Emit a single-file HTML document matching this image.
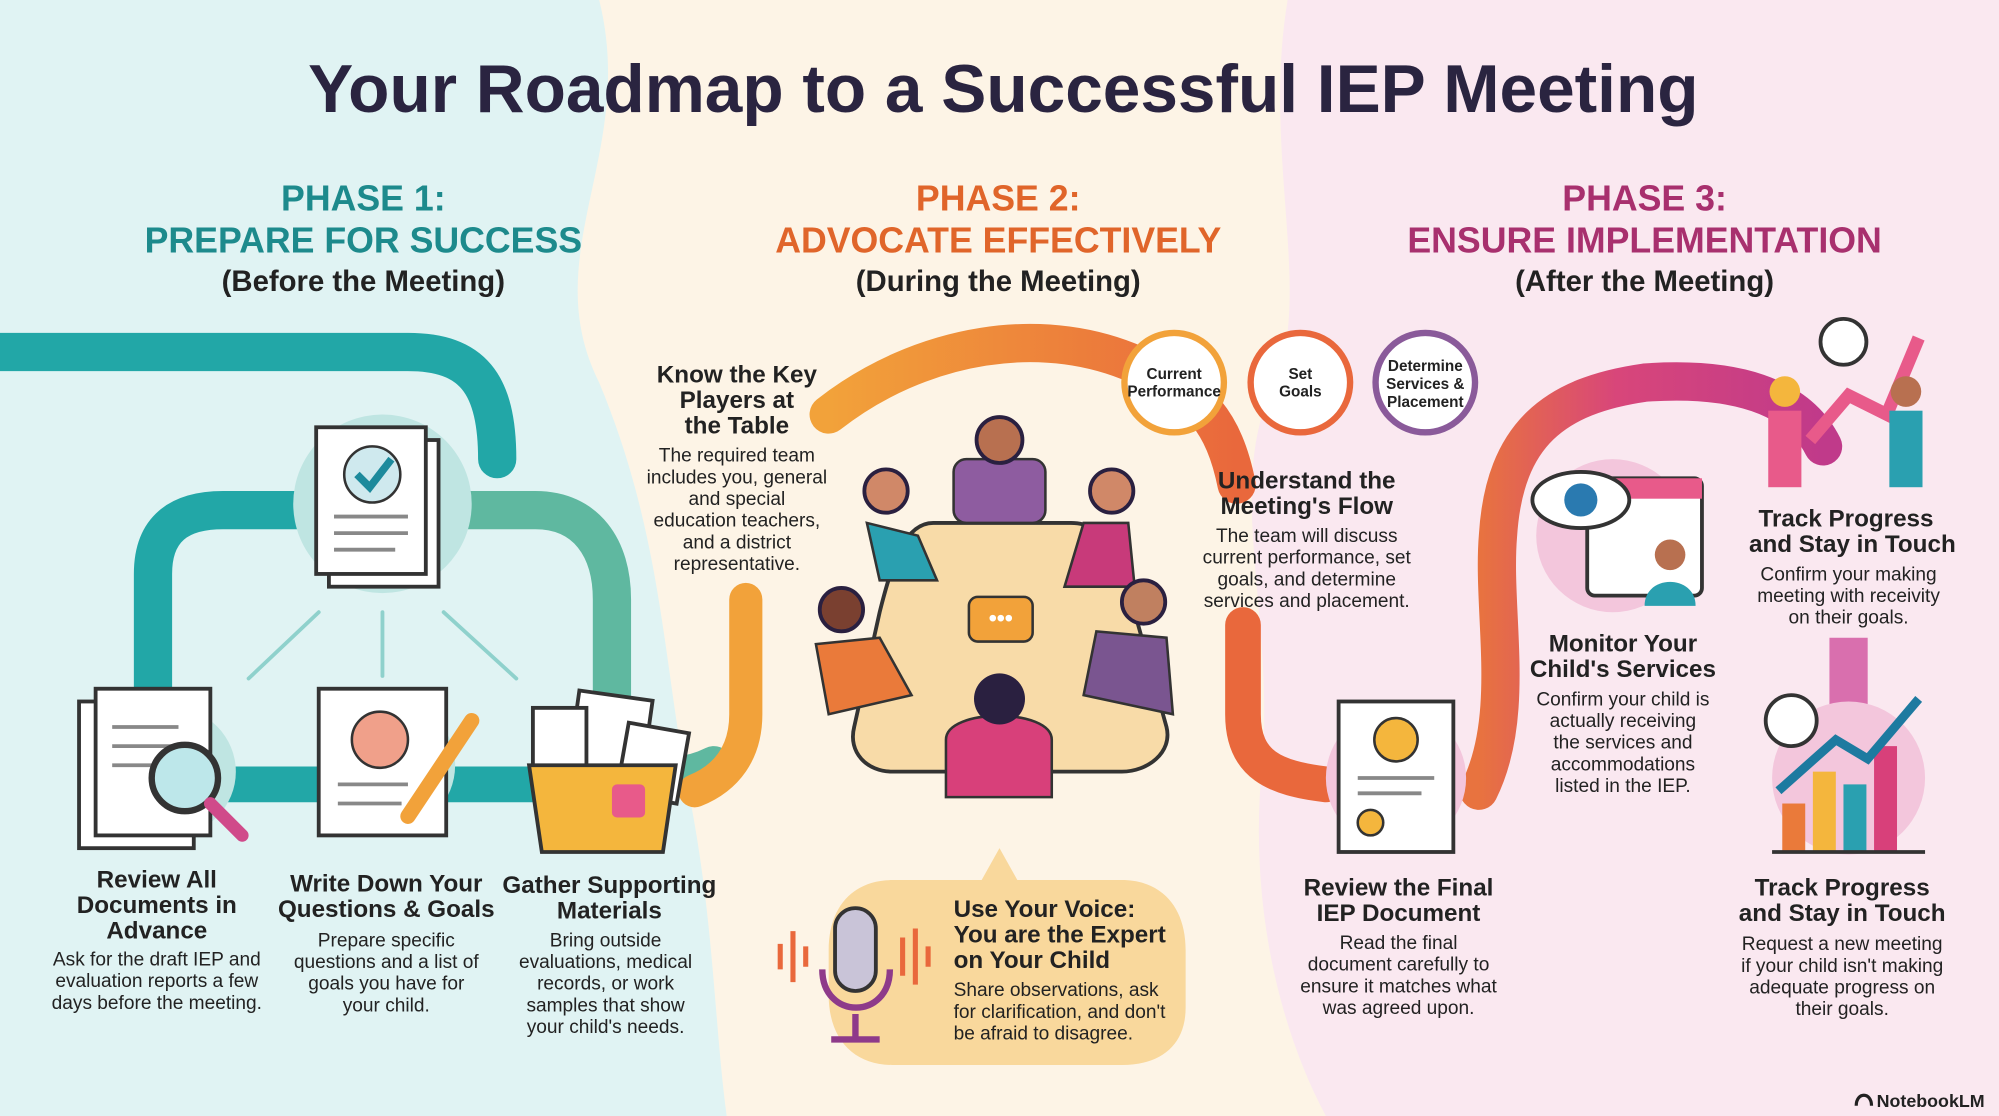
<!DOCTYPE html>
<html><head><meta charset="utf-8"><style>
html,body{margin:0;padding:0;width:1999px;height:1116px;overflow:hidden;background:#fdf4e6}
svg{display:block}
text{font-family:"Liberation Sans",sans-serif}
</style></head><body>
<svg width="1999" height="1116" viewBox="0 0 1568 875" preserveAspectRatio="none" xmlns="http://www.w3.org/2000/svg">
<defs>
<linearGradient id="og" x1="0" x2="1"><stop offset="0" stop-color="#f2a23a"/><stop offset="1" stop-color="#e9683c"/></linearGradient>
<linearGradient id="pg" x1="0" x2="1"><stop offset="0" stop-color="#e8733f"/><stop offset="0.4" stop-color="#d8467a"/><stop offset="1" stop-color="#c03a8a"/></linearGradient>
</defs>
<rect width="1568" height="875" fill="#fdf4e6"/>
<path d="M0 0 H470 C500 120 420 200 470 300 C520 420 520 520 540 620 C560 720 560 800 570 875 H0Z" fill="#e0f3f3"/>
<path d="M1010 0 H1568 V875 H1040 C1000 800 980 700 990 600 C1000 480 960 380 1000 300 C1030 230 990 120 1010 0Z" fill="#fae8f0"/>

<text x="787" y="88" text-anchor="middle" font-size="53" font-weight="bold" fill="#2a2440">Your Roadmap to a Successful IEP Meeting</text>

<g text-anchor="middle" font-weight="bold">
<text x="285" y="165" font-size="28" fill="#1d8a8c">PHASE 1:</text>
<text x="285" y="198" font-size="28" fill="#1d8a8c">PREPARE FOR SUCCESS</text>
<text x="285" y="228" font-size="23" fill="#222">(Before the Meeting)</text>
<text x="783" y="165" font-size="28" fill="#e0652a">PHASE 2:</text>
<text x="783" y="198" font-size="28" fill="#e0652a">ADVOCATE EFFECTIVELY</text>
<text x="783" y="228" font-size="23" fill="#222">(During the Meeting)</text>
<text x="1290" y="165" font-size="28" fill="#a8306e">PHASE 3:</text>
<text x="1290" y="198" font-size="28" fill="#a8306e">ENSURE IMPLEMENTATION</text>
<text x="1290" y="228" font-size="23" fill="#222">(After the Meeting)</text>
</g>

<g fill="none" stroke-linecap="round">
<path d="M0 276 H320 C370 276 390 300 390 360" stroke="#22a7a7" stroke-width="30"/>
<path d="M120 540 V450 C120 415 140 400 175 400 H240" stroke="#22a7a7" stroke-width="30"/>
<path d="M340 400 H420 C460 400 480 430 480 470 V560 C480 600 520 620 560 600" stroke="#5fb8a0" stroke-width="30"/>
<path d="M120 600 V615 H420" stroke="#22a7a7" stroke-width="28"/>
<path d="M250 480 L195 532 M300 480 V530 M348 480 L405 532" stroke="#8fd1cc" stroke-width="3"/>
<path d="M650 325 C720 270 820 250 900 290 C940 310 960 330 970 380" stroke="url(#og)" stroke-width="30"/>
<path d="M585 470 V560 C585 590 570 610 545 620" stroke="#f2a23a" stroke-width="26"/>
<path d="M975 490 V560 C975 600 1000 610 1040 615" stroke="#e9683c" stroke-width="28"/>
<path d="M1160 620 C1190 560 1170 480 1175 420 C1180 340 1220 310 1290 300 C1360 295 1410 310 1430 350" stroke="url(#pg)" stroke-width="30"/>
<path d="M1450 500 V560" stroke="#d96fae" stroke-width="30" stroke-linecap="butt"/>
</g>

<circle cx="300" cy="395" r="70" fill="#bfe5e2"/>
<rect x="258" y="345" width="86" height="115" fill="#fff" stroke="#333" stroke-width="3"/>
<rect x="248" y="335" width="86" height="115" fill="#fff" stroke="#333" stroke-width="3"/>
<circle cx="292" cy="372" r="22" fill="#cfe9ee" stroke="#333" stroke-width="2"/>
<path d="M280 372 L290 382 L307 360" stroke="#1d8a9c" stroke-width="6" fill="none"/>
<path d="M262 405 H320 M262 418 H320 M262 431 H310" stroke="#888" stroke-width="3"/>

<circle cx="135" cy="605" r="50" fill="#bfe5e2"/>
<rect x="62" y="550" width="90" height="115" fill="#fff" stroke="#333" stroke-width="3"/>
<rect x="75" y="540" width="90" height="115" fill="#fff" stroke="#333" stroke-width="3"/>
<path d="M88 570 H140 M88 585 H145 M88 600 H130" stroke="#888" stroke-width="3"/>
<circle cx="145" cy="610" r="26" fill="#bde7ea" stroke="#333" stroke-width="5"/>
<path d="M165 630 L190 655" stroke="#d04a8a" stroke-width="10" stroke-linecap="round"/>

<circle cx="305" cy="600" r="52" fill="#bfe5e2"/>
<rect x="250" y="540" width="100" height="115" fill="#fff" stroke="#333" stroke-width="3"/>
<circle cx="298" cy="580" r="22" fill="#f0a08a" stroke="#333" stroke-width="2"/>
<path d="M265 615 H320 M265 630 H315" stroke="#888" stroke-width="3"/>
<path d="M370 565 L320 640" stroke="#f2a23a" stroke-width="12" stroke-linecap="round"/>

<rect x="450" y="545" width="58" height="62" fill="#fff" stroke="#333" stroke-width="3" transform="rotate(8 478 575)"/>
<rect x="418" y="555" width="42" height="55" fill="#fff" stroke="#333" stroke-width="3"/>
<rect x="488" y="570" width="48" height="56" fill="#fff" stroke="#333" stroke-width="3" transform="rotate(10 510 598)"/>
<path d="M415 600 H530 L520 668 H425Z" fill="#f4b63d" stroke="#333" stroke-width="3"/>
<rect x="480" y="615" width="26" height="26" rx="4" fill="#e85a8a"/>

<g text-anchor="middle" fill="#222">
<text font-size="19" font-weight="bold"><tspan x="123" y="696">Review All</tspan><tspan x="123" y="716">Documents in</tspan><tspan x="123" y="736">Advance</tspan></text>
<text font-size="15"><tspan x="123" y="757">Ask for the draft IEP and</tspan><tspan x="123" y="774">evaluation reports a few</tspan><tspan x="123" y="791">days before the meeting.</tspan></text>
<text font-size="19" font-weight="bold"><tspan x="303" y="699">Write Down Your</tspan><tspan x="303" y="719">Questions &amp; Goals</tspan></text>
<text font-size="15"><tspan x="303" y="742">Prepare specific</tspan><tspan x="303" y="759">questions and a list of</tspan><tspan x="303" y="776">goals you have for</tspan><tspan x="303" y="793">your child.</tspan></text>
<text font-size="19" font-weight="bold"><tspan x="478" y="700">Gather Supporting</tspan><tspan x="478" y="720">Materials</tspan></text>
<text font-size="15"><tspan x="475" y="742">Bring outside</tspan><tspan x="475" y="759">evaluations, medical</tspan><tspan x="475" y="776">records, or work</tspan><tspan x="475" y="793">samples that show</tspan><tspan x="475" y="810">your child's needs.</tspan></text>

<text font-size="19" font-weight="bold"><tspan x="578" y="300">Know the Key</tspan><tspan x="578" y="320">Players at</tspan><tspan x="578" y="340">the Table</tspan></text>
<text font-size="15"><tspan x="578" y="362">The required team</tspan><tspan x="578" y="379">includes you, general</tspan><tspan x="578" y="396">and special</tspan><tspan x="578" y="413">education teachers,</tspan><tspan x="578" y="430">and a district</tspan><tspan x="578" y="447">representative.</tspan></text>

<text font-size="19" font-weight="bold"><tspan x="1025" y="383">Understand the</tspan><tspan x="1025" y="403">Meeting's Flow</tspan></text>
<text font-size="15"><tspan x="1025" y="425">The team will discuss</tspan><tspan x="1025" y="442">current performance, set</tspan><tspan x="1025" y="459">goals, and determine</tspan><tspan x="1025" y="476">services and placement.</tspan></text>
</g>

<circle cx="921" cy="300" r="39" fill="#fff" stroke="#f2a23a" stroke-width="5"/>
<circle cx="1020" cy="300" r="39" fill="#fff" stroke="#e9683c" stroke-width="5"/>
<circle cx="1118" cy="300" r="39" fill="#fff" stroke="#8a5a9a" stroke-width="5"/>
<g text-anchor="middle" font-size="12" font-weight="bold" fill="#222">
<text><tspan x="921" y="297">Current</tspan><tspan x="921" y="311">Performance</tspan></text>
<text><tspan x="1020" y="297">Set</tspan><tspan x="1020" y="311">Goals</tspan></text>
<text><tspan x="1118" y="291">Determine</tspan><tspan x="1118" y="305">Services &amp;</tspan><tspan x="1118" y="319">Placement</tspan></text>
</g>

<path d="M732 410 H840 C870 410 880 440 890 480 L915 570 C920 590 900 605 880 605 H700 C680 605 665 590 670 570 L690 480 C700 440 710 410 732 410Z" fill="#f8dba8" stroke="#333" stroke-width="3"/>
<rect x="748" y="360" width="72" height="50" rx="10" fill="#8e5ca0" stroke="#333" stroke-width="2"/>
<circle cx="784" cy="345" r="18" fill="#b87050" stroke="#2a2040" stroke-width="3"/>
<path d="M680 410 L720 420 L735 455 H690Z" fill="#2aa0b0" stroke="#333" stroke-width="2"/>
<circle cx="695" cy="385" r="17" fill="#d08868" stroke="#2a2040" stroke-width="3"/>
<path d="M850 410 L885 410 L890 460 H835Z" fill="#c83a7a" stroke="#333" stroke-width="2"/>
<circle cx="872" cy="385" r="17" fill="#d08868" stroke="#2a2040" stroke-width="3"/>
<path d="M640 505 L690 500 L715 545 L650 560Z" fill="#ea7a3a" stroke="#333" stroke-width="2"/>
<circle cx="660" cy="478" r="17" fill="#7a4030" stroke="#2a2040" stroke-width="3"/>
<path d="M860 495 L915 500 L920 560 L850 545Z" fill="#7a5590" stroke="#333" stroke-width="2"/>
<circle cx="897" cy="472" r="17" fill="#c08060" stroke="#2a2040" stroke-width="3"/>
<path d="M742 580 C742 555 825 555 825 580 V625 H742Z" fill="#d8407a" stroke="#333" stroke-width="2"/>
<circle cx="784" cy="548" r="20" fill="#2a2040"/>
<rect x="760" y="468" width="50" height="35" rx="7" fill="#f2a23a" stroke="#333" stroke-width="2"/>
<text x="785" y="491" text-anchor="middle" font-size="18" font-weight="bold" fill="#fff">•••</text>

<path d="M700 690 H770 L784 665 L798 690 H880 C910 690 930 710 930 745 V790 C930 820 910 835 880 835 H700 C670 835 650 815 650 780 V745 C650 710 670 690 700 690Z" fill="#f9d89c"/>
<rect x="655" y="712" width="32" height="65" rx="16" fill="#c9c4d8" stroke="#333" stroke-width="3"/>
<path d="M645 760 C645 800 698 800 698 760 M671 795 V815 M652 815 H690" stroke="#8e3a8a" stroke-width="5" fill="none"/>
<path d="M612 740 V760 M622 730 V770 M632 742 V758 M708 735 V765 M718 728 V772 M728 742 V758" stroke="#e9683c" stroke-width="4"/>
<g fill="#222">
<text font-size="19" font-weight="bold"><tspan x="748" y="719">Use Your Voice:</tspan><tspan x="748" y="739">You are the Expert</tspan><tspan x="748" y="759">on Your Child</tspan></text>
<text font-size="15"><tspan x="748" y="781">Share observations, ask</tspan><tspan x="748" y="798">for clarification, and don't</tspan><tspan x="748" y="815">be afraid to disagree.</tspan></text>
</g>

<circle cx="1095" cy="610" r="55" fill="#f3c6dc"/>
<rect x="1050" y="550" width="90" height="118" fill="#fff" stroke="#333" stroke-width="3"/>
<circle cx="1095" cy="580" r="17" fill="#f4b63d" stroke="#333" stroke-width="2"/>
<path d="M1065 610 H1125 M1065 622 H1115" stroke="#888" stroke-width="3"/>
<circle cx="1075" cy="645" r="10" fill="#f4b63d" stroke="#333" stroke-width="2"/>

<circle cx="1265" cy="420" r="60" fill="#f3c6dc"/>
<rect x="1245" y="375" width="90" height="92" rx="6" fill="#fff" stroke="#333" stroke-width="3"/>
<rect x="1245" y="375" width="90" height="16" fill="#e85a8a"/>
<ellipse cx="1240" cy="392" rx="38" ry="22" fill="#fff" stroke="#333" stroke-width="3"/>
<circle cx="1240" cy="392" r="13" fill="#2a7ab0"/>
<circle cx="1310" cy="435" r="12" fill="#b87050"/>
<path d="M1290 475 C1290 450 1330 450 1330 475Z" fill="#2aa0b0"/>

<path d="M1420 345 L1450 310 L1480 325 L1505 265" stroke="#e85a8a" stroke-width="10" fill="none"/>
<circle cx="1446" cy="268" r="18" fill="#fff" stroke="#333" stroke-width="3"/>
<circle cx="1400" cy="307" r="12" fill="#f4b63d"/>
<rect x="1387" y="322" width="26" height="60" fill="#e85a8a"/>
<circle cx="1495" cy="307" r="12" fill="#b87050"/>
<rect x="1482" y="322" width="26" height="60" fill="#2aa0b0"/>

<circle cx="1450" cy="610" r="60" fill="#f3c6dc"/>
<circle cx="1405" cy="565" r="20" fill="#fff" stroke="#333" stroke-width="3"/>
<rect x="1398" y="630" width="18" height="38" fill="#ea7a3a"/>
<rect x="1422" y="605" width="18" height="63" fill="#f4b63d"/>
<rect x="1446" y="615" width="18" height="53" fill="#2aa0b0"/>
<rect x="1470" y="585" width="18" height="83" fill="#d8407a"/>
<path d="M1390 668 H1510" stroke="#333" stroke-width="3"/>
<path d="M1395 620 L1440 580 L1465 595 L1505 548" stroke="#1d7aa0" stroke-width="7" fill="none"/>

<g text-anchor="middle" fill="#222">
<text font-size="19" font-weight="bold"><tspan x="1448" y="413">Track Progress</tspan><tspan x="1453" y="433">and Stay in Touch</tspan></text>
<text font-size="15"><tspan x="1450" y="455">Confirm your making</tspan><tspan x="1450" y="472">meeting with receivity</tspan><tspan x="1450" y="489">on their goals.</tspan></text>
<text font-size="19" font-weight="bold"><tspan x="1273" y="511">Monitor Your</tspan><tspan x="1273" y="531">Child's Services</tspan></text>
<text font-size="15"><tspan x="1273" y="553">Confirm your child is</tspan><tspan x="1273" y="570">actually receiving</tspan><tspan x="1273" y="587">the services and</tspan><tspan x="1273" y="604">accommodations</tspan><tspan x="1273" y="621">listed in the IEP.</tspan></text>
<text font-size="19" font-weight="bold"><tspan x="1097" y="702">Review the Final</tspan><tspan x="1097" y="722">IEP Document</tspan></text>
<text font-size="15"><tspan x="1097" y="744">Read the final</tspan><tspan x="1097" y="761">document carefully to</tspan><tspan x="1097" y="778">ensure it matches what</tspan><tspan x="1097" y="795">was agreed upon.</tspan></text>
<text font-size="19" font-weight="bold"><tspan x="1445" y="702">Track Progress</tspan><tspan x="1445" y="722">and Stay in Touch</tspan></text>
<text font-size="15"><tspan x="1445" y="745">Request a new meeting</tspan><tspan x="1445" y="762">if your child isn't making</tspan><tspan x="1445" y="779">adequate progress on</tspan><tspan x="1445" y="796">their goals.</tspan></text>
</g>
<text x="1472" y="868" font-size="14" font-weight="bold" fill="#222">NotebookLM</text>
<path d="M1456 867 C1456 856 1468 856 1468 867" stroke="#222" stroke-width="2.5" fill="none"/>
</svg>
</body></html>
